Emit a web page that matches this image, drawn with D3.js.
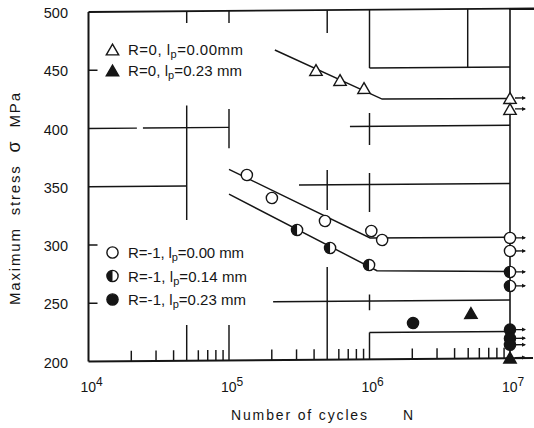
<!DOCTYPE html>
<html><head><meta charset="utf-8">
<script src="https://cdn.jsdelivr.net/npm/d3@7"></script>
<style>
body{margin:0;background:#fff;}
svg{display:block;}
text{font-family:"Liberation Sans",Arial,sans-serif;fill:#151515;}
</style></head><body>
<svg id="c" width="534" height="428"></svg>
<script>
// ---------- data ----------
const xTickExps = [4, 5, 6, 7];
const yTicks = [200, 250, 300, 350, 400, 450, 500];
const minorTicks = [2e4,3e4,4e4,6e4,7e4,8e4,9e4,2e5,3e5,4e5,6e5,7e5,8e5,9e5,2e6,3e6,4e6,5e6,6e6,7e6,8e6,9e6];
const leftShortTicks = [450, 300, 250];
// partial grid lines [N, MPa from, MPa to] and [MPa, N from, N to]
const vGrid = [[5e4,500,489.8],[5e4,419.1,320.8],[5e4,230.6,200],
               [1e5,500,489.7],[1e5,415.7,382.2],[1e5,230.3,200],
               [5e5,500,480.4],[5e5,362.8,328.5],[5e5,279.5,200],
               [1e6,500,450],[1e6,411.4,383.9],[1e6,359.9,326.4],[1e6,255.7,242],[1e6,223,200],
               [5e6,500,450]];
const hGrid = [[450,1e6,1e7],[400,1e4,2.21e4],[400,2.44e4,1e5],[400,7.26e5,1e7],
               [350,1e4,5e4],[350,3.15e5,1e7],[250,2.06e5,1e7]];

// series  [N, max stress MPa]
const r0Open        = [[4.16e5,448.7],[6.17e5,439.9],[9.14e5,432.9]];
const r0OpenRunout  = [[1e7,423.3],[1e7,413.9]];
const r0Full        = [[5.27e6,239]];
const r0FullRunout  = [[1e7,200.5]];
const m1Open        = [[1.34e5,359],[2.02e5,339.1],[4.82e5,319],[1.03e6,310.1],[1.23e6,302.3]];
const m1OpenRunout  = [[1e7,303.2],[1e7,292]];
const m1Half        = [[3.05e5,311.5],[5.24e5,295.8],[9.93e5,280.9]];
const m1HalfRunout  = [[1e7,274],[1e7,262]];
const m1Full        = [[2.04e6,230.8]];
const m1FullRunout  = [[1e7,224.5],[1e7,217],[1e7,211.5]];

// fitted curves
const fitR0   = [[2.12e5,466.1],[1.23e6,423.3],[1e7,423]];
const fitOpen = [[1.0e5,364],[1.01e6,304.1],[1e7,303.8]];
const fitHalf = [[1.0e5,342.7],[1.13e6,276],[1e7,274.5]];
const fitFull = [[1e6,223],[1e7,223]];

const legendTop = [
  {sym:"triOpen", pre:"R=0, l", sub:"p", post:"=0.00mm", len:115},
  {sym:"triFull", pre:"R=0, l", sub:"p", post:"=0.23 mm", len:114}
];
const legendBottom = [
  {sym:"open", pre:"R=-1, l", sub:"p", post:"=0.00 mm", len:116},
  {sym:"half", pre:"R=-1, l", sub:"p", post:"=0.14 mm", len:119},
  {sym:"full", pre:"R=-1, l", sub:"p", post:"=0.23 mm", len:118}
];
const yTitleParts = ["Maximum  stress  ", "σ", "  MPa"];
const xTitle = "Number of cycles";
const xTitleVar = "N";

// ---------- drawing ----------
const W = 534, H = 428;
const ink = "#151515";
const svg = d3.select("#c");
svg.append("rect").attr("width", W).attr("height", H).attr("fill", "#fff");

const x = d3.scaleLog().domain([1e4, 1e7]).range([88.5, 510]);
const y = d3.scaleLinear().domain([200, 500]).range([361.5, 12]);
const x0 = x(1e4);
const skew = -Math.atan(3.3 / 421) * 180 / Math.PI;   // slight scan skew
const g = svg.append("g")
  .attr("transform", `translate(${x0},0) skewY(${skew}) translate(${-x0},0)`);

// frame
const frame = g.append("g").attr("stroke", ink).attr("fill", "none");
frame.append("line").attr("x1", x0).attr("x2", x0).attr("y1", y(500)).attr("y2", y(200)).attr("stroke-width", 2);
frame.append("line").attr("x1", x0).attr("x2", 533).attr("y1", y(200)).attr("y2", y(200)).attr("stroke-width", 2);
frame.append("line").attr("x1", x0).attr("x2", 534).attr("y1", y(500)).attr("y2", y(500)).attr("stroke-width", 1.8);
frame.append("line").attr("x1", x(1e7)).attr("x2", x(1e7)).attr("y1", y(500)).attr("y2", y(200)).attr("stroke-width", 1.6);

// grid pieces
const grid = g.append("g").attr("stroke", ink).attr("stroke-width", 1.45);
grid.selectAll(".v").data(vGrid).join("line")
  .attr("x1", d => x(d[0])).attr("x2", d => x(d[0]))
  .attr("y1", d => y(d[1])).attr("y2", d => y(d[2]));
grid.selectAll(".h").data(hGrid).join("line")
  .attr("y1", d => y(d[0])).attr("y2", d => y(d[0]))
  .attr("x1", d => x(d[1])).attr("x2", d => x(d[2]));
grid.selectAll(".lt").data(leftShortTicks).join("line")
  .attr("x1", x0).attr("x2", x0 + 9)
  .attr("y1", d => y(d)).attr("y2", d => y(d));

// minor ticks via d3 axis
const minorAxis = g.append("g").attr("transform", `translate(0,${y(200)})`)
  .call(d3.axisBottom(x).tickValues(minorTicks).tickSize(-10.5).tickFormat(""));
minorAxis.select(".domain").remove();
minorAxis.selectAll("line").attr("stroke", ink).attr("stroke-width", 1.45);

// fitted lines
const line = d3.line().x(d => x(d[0])).y(d => y(d[1]));
g.append("g").attr("fill", "none").attr("stroke", ink).attr("stroke-width", 1.45)
  .selectAll("path").data([fitR0, fitOpen, fitHalf, fitFull]).join("path").attr("d", line);

// symbols
function tri(sel, cx, cy, filled) {
  const w = 6.2, h = 5.4;
  sel.append("path")
    .attr("d", `M${cx},${cy - h} L${cx + w},${cy + h} L${cx - w},${cy + h} Z`)
    .attr("fill", filled ? ink : "#fff").attr("stroke", ink).attr("stroke-width", 1.4)
    .attr("stroke-linejoin", "miter");
}
function circ(sel, cx, cy, kind) {
  const r = 5.6;
  sel.append("circle").attr("cx", cx).attr("cy", cy).attr("r", r)
    .attr("fill", kind === "full" ? ink : "#fff").attr("stroke", ink).attr("stroke-width", 1.4);
  if (kind === "half") {
    sel.append("path").attr("d", `M${cx},${cy - r} A${r},${r} 0 0 0 ${cx},${cy + r} Z`).attr("fill", ink);
  }
}
function sym(sel, type, cx, cy) {
  if (type === "triOpen") tri(sel, cx, cy, false);
  else if (type === "triFull") tri(sel, cx, cy, true);
  else circ(sel, cx, cy, type);
}
function arrow(sel, cx, cy) {
  sel.append("line").attr("x1", cx + 5).attr("x2", cx + 15).attr("y1", cy).attr("y2", cy)
    .attr("stroke", ink).attr("stroke-width", 1.3);
  sel.append("path").attr("d", `M${cx + 16},${cy} L${cx + 12},${cy - 2} L${cx + 12},${cy + 2} Z`).attr("fill", ink);
}

const pts = g.append("g");
const series = [
  [r0Open, "triOpen", false], [r0OpenRunout, "triOpen", true],
  [m1Open, "open", false], [m1OpenRunout, "open", true],
  [m1Half, "half", false], [m1HalfRunout, "half", true],
  [m1Full, "full", false], [m1FullRunout, "full", true],
  [r0Full, "triFull", false], [r0FullRunout, "triFull", true]
];
series.forEach(([data, type, runout]) => {
  data.forEach(d => { if (runout) arrow(pts, x(d[0]), y(d[1])); });
});
series.forEach(([data, type]) => {
  data.forEach(d => sym(pts, type, x(d[0]), y(d[1])));
});

// y tick labels via d3 axis
const yAxis = svg.append("g").attr("transform", "translate(68,0)")
  .call(d3.axisLeft(y).tickValues(yTicks).tickSize(0).tickPadding(0).tickFormat(d3.format("d")));
yAxis.select(".domain").remove();
yAxis.selectAll("text").attr("dy", "0.39em").attr("font-size", 14.5)
  .attr("font-family", '"Liberation Sans",Arial,sans-serif').attr("fill", ink);

// x tick labels 10^n
const xl = svg.append("g");
xTickExps.forEach(e => {
  const t = xl.append("text").attr("x", x(Math.pow(10, e)) - 8).attr("y", 392).attr("font-size", 14);
  t.append("tspan").text("10");
  t.append("tspan").attr("dy", -6).attr("font-size", 12).text(String(e));
});

// axis titles
svg.append("text").attr("x", 231).attr("y", 420).attr("font-size", 14)
  .attr("textLength", 136).attr("lengthAdjust", "spacing").text(xTitle);
svg.append("text").attr("x", 403).attr("y", 420).attr("font-size", 14).text(xTitleVar);
const yt = svg.append("text").attr("transform", "translate(20,199) rotate(-90)")
  .attr("text-anchor", "middle").attr("font-size", 15)
  .style("white-space", "pre")
  .attr("textLength", 212).attr("lengthAdjust", "spacing");
yt.append("tspan").text(yTitleParts[0]);
yt.append("tspan").attr("font-size", 18).text(yTitleParts[1]);
yt.append("tspan").text(yTitleParts[2]);

// legends
function legend(items, startY, step) {
  items.forEach((it, i) => {
    const by = startY + i * step;
    sym(svg, it.sym, 112.5, by - 5.5);
    const t = svg.append("text").attr("x", 128).attr("y", by).attr("font-size", 15)
      .attr("textLength", it.len).attr("lengthAdjust", "spacing");
    t.append("tspan").text(it.pre);
    t.append("tspan").attr("dy", 3).attr("font-size", 11).text(it.sub);
    t.append("tspan").attr("dy", -3).text(it.post);
  });
}
legend(legendTop, 55, 21);
legend(legendBottom, 258, 23.5);
</script>
</body></html>
